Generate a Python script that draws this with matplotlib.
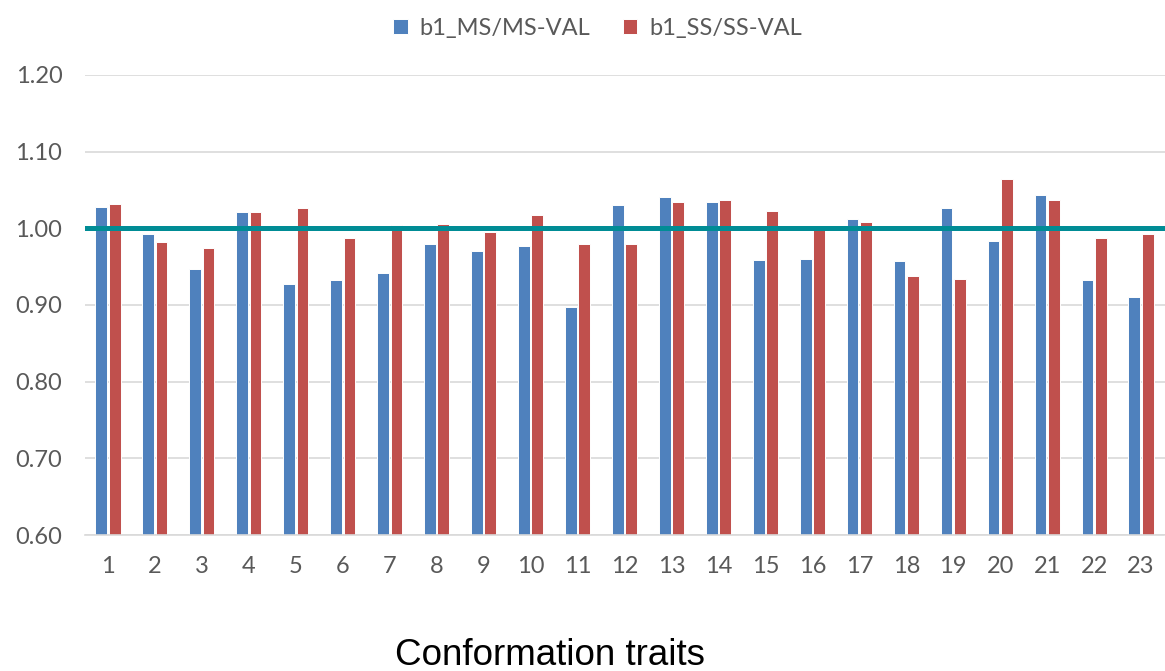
import matplotlib
matplotlib.use("Agg")
import matplotlib.pyplot as plt
import numpy as np

traits = [str(i) for i in range(1, 24)]
ms_val = [1.028, 0.993, 0.947, 1.021, 0.927, 0.933, 0.942, 0.979, 0.970, 0.977,
          0.898, 1.030, 1.041, 1.034, 0.959, 0.960, 1.012, 0.958, 1.026, 0.984,
          1.043, 0.933, 0.910]
ss_val = [1.032, 0.982, 0.974, 1.021, 1.026, 0.987, 1.005, 1.006, 0.995, 1.017,
          0.980, 0.979, 1.034, 1.037, 1.023, 0.999, 1.008, 0.938, 0.934, 1.065,
          1.037, 0.988, 0.992]
series_names = ["b1_MS/MS-VAL", "b1_SS/SS-VAL"]
y_ticks = [0.60, 0.70, 0.80, 0.90, 1.00, 1.10, 1.20]
ref_value = 1.00
x_title = "Conformation traits"

W, H = 1165, 671
fig = plt.figure(figsize=(W / 100, H / 100), dpi=100)
ax = fig.add_axes([84.5 / W, 1 - 535 / H, (1164.5 - 84.5) / W, (535 - 75) / H])

x = np.arange(1, len(traits) + 1)
bw = 0.25
off = 0.142
blue = "#4F81BD"
red = "#C0504D"
ax.bar(x - off, ms_val, width=bw, bottom=0, color=blue, edgecolor="white",
       linewidth=0.7, label=series_names[0], zorder=2)
ax.bar(x + off, ss_val, width=bw, bottom=0, color=red, edgecolor="white",
       linewidth=0.7, label=series_names[1], zorder=2)
ax.axhline(ref_value, color="#008C95", linewidth=3.6, zorder=3)

ax.set_xlim(0.5, len(traits) + 0.5)
ax.set_ylim(0.60, 1.20)
ax.set_yticks(y_ticks)
ax.set_yticklabels([f"{v:.2f}" for v in y_ticks])
ax.set_xticks(x)
ax.set_xticklabels(traits)
ax.yaxis.grid(True, color="#D9D9D9", linewidth=1.2, zorder=0)
ax.set_axisbelow(True)
for s in ["top", "right", "left"]:
    ax.spines[s].set_visible(False)
ax.spines["bottom"].set_color("#D9D9D9")
ax.spines["bottom"].set_linewidth(1.2)
ax.tick_params(axis="both", length=0, labelsize=17, labelcolor="#595959")
ax.tick_params(axis="x", pad=15)
ax.tick_params(axis="y", pad=16)
for lab in ax.get_xticklabels() + ax.get_yticklabels():
    lab.set_fontfamily("Lato")

leg = fig.legend(loc="center", bbox_to_anchor=(0.513, 1 - 28 / H), ncol=2,
                 frameon=False, prop={"family": "Lato", "size": 17},
                 handlelength=0.6, handleheight=0.6, handletextpad=0.5,
                 columnspacing=1.4)
for t in leg.get_texts():
    t.set_color("#595959")

fig.text(550 / W, 1 - 665 / H, x_title, ha="center", va="baseline",
         fontsize=26.5, family="Liberation Sans", color="black")

fig.savefig("out.png", dpi=100)
